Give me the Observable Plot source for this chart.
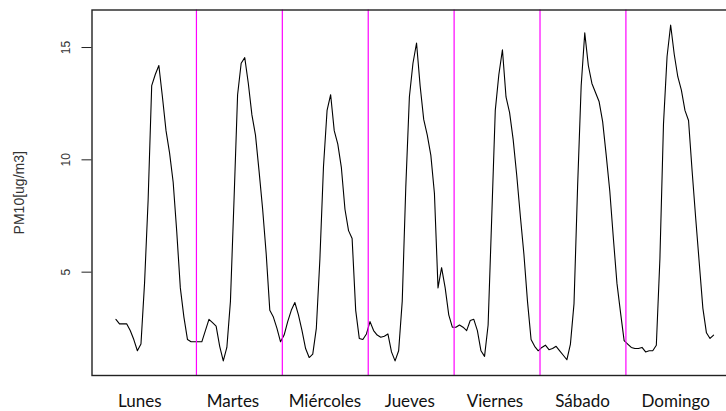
<!DOCTYPE html>
<html>
<head>
<meta charset="utf-8">
<script src="https://cdn.jsdelivr.net/npm/d3@7"></script>
<script src="https://cdn.jsdelivr.net/npm/@observablehq/plot@0.6"></script>
<style>
  html, body { margin: 0; padding: 0; background: #fff; }
  #chart { width: 726px; height: 411px; overflow: hidden; }
  #chart svg { max-width: none !important; }
</style>
</head>
<body>
<div id="chart"></div>
<script>
// Hour index (1..168) over one week
const hours = d3.range(1, 169);

// PM10 hourly values, Monday..Sunday (24 per day)
const lunes     = [2.9, 2.7, 2.7, 2.7, 2.4, 2.0, 1.5, 1.8, 4.5, 8.2, 13.3, 13.8, 14.2, 12.8, 11.3, 10.3, 9.0, 6.8, 4.3, 3.0, 2.0, 1.9, 1.9, 1.9];
const martes    = [1.9, 2.4, 2.9, 2.75, 2.6, 1.7, 1.05, 1.65, 3.7, 8.2, 12.9, 14.3, 14.55, 13.4, 12.0, 11.1, 9.5, 7.8, 5.8, 3.3, 3.0, 2.5, 1.9, 2.2];
const miercoles = [2.8, 3.3, 3.65, 3.1, 2.4, 1.6, 1.2, 1.35, 2.5, 5.6, 9.7, 12.2, 12.9, 11.3, 10.7, 9.65, 7.8, 6.85, 6.5, 3.3, 2.05, 2.0, 2.25, 2.8];
const jueves    = [2.4, 2.2, 2.1, 2.15, 2.25, 1.45, 1.05, 1.5, 3.7, 8.8, 12.8, 14.3, 15.2, 13.3, 11.8, 11.1, 10.2, 8.5, 4.3, 5.2, 4.3, 3.1, 2.55, 2.55];
const viernes   = [2.65, 2.55, 2.4, 2.85, 2.9, 2.4, 1.5, 1.25, 2.65, 7.4, 12.2, 13.8, 14.9, 12.8, 12.1, 10.9, 9.3, 7.5, 5.8, 3.7, 2.0, 1.7, 1.5, 1.65];
const sabado    = [1.75, 1.55, 1.6, 1.7, 1.5, 1.3, 1.1, 1.8, 3.6, 8.8, 13.3, 15.65, 14.2, 13.4, 13.0, 12.6, 11.7, 10.2, 8.6, 6.5, 4.5, 3.2, 1.95, 1.8];
const domingo   = [1.65, 1.6, 1.6, 1.65, 1.45, 1.5, 1.5, 1.75, 5.6, 11.6, 14.6, 16.0, 14.7, 13.7, 13.1, 12.2, 11.75, 9.5, 7.4, 5.4, 3.4, 2.3, 2.05, 2.2];

// Day separators (hour positions) and day labels
const dayBreaks = [23.5, 47.5, 71.5, 95.5, 119.5, 143.5];
const dayNames  = ["Lunes", "Martes", "Miércoles", "Jueves", "Viernes", "Sábado", "Domingo"];
const dayLabelAt = [7.7, 33.7, 59.4, 83.1, 106.9, 131.4, 157.4];

// Y tick values
const yTicks = [5, 10, 15];

const pm10 = [...lunes, ...martes, ...miercoles, ...jueves, ...viernes, ...sabado, ...domingo];
const data = hours.map((h, i) => ({hour: h, pm10: pm10[i]}));

const chart = Plot.plot({
  width: 738,
  height: 411,
  marginLeft: 91.5,
  marginRight: 1,
  marginTop: 9.5,
  marginBottom: 36,
  x: {domain: [-5.68, 174.68]},
  y: {domain: [0.40, 16.67]},
  style: {fontFamily: "'Liberation Sans', Arial, sans-serif", fontSize: "12px", color: "#222", background: "#fff", maxWidth: "none"},
  marks: [
    Plot.axisY({
      ticks: yTicks, tickSize: 10, tickRotate: -90, tickPadding: 12,
      fontSize: 12, stroke: "#222", fill: "#333",
      label: "PM10[ug/m3]", labelAnchor: "center", labelOffset: 78, labelArrow: "none"
    }),
    Plot.axisX({
      ticks: dayLabelAt, tickFormat: (d, i) => dayNames[i], tickSize: 0, tickPadding: 19,
      fontSize: 17, fontFamily: "Lato, 'Open Sans', sans-serif", fill: "#111", label: null
    }),
    Plot.line(data, {x: "hour", y: "pm10", stroke: "#000", strokeWidth: 1.1}),
    Plot.ruleX(dayBreaks, {stroke: "#ff00ff", strokeWidth: 1.2}),
    Plot.frame({stroke: "#222", strokeWidth: 1.4})
  ]
});
chart.style.maxWidth = "none";
document.getElementById("chart").appendChild(chart);
// enlarge the y-axis title to match the reference
chart.querySelectorAll("[aria-label='y-axis label'] text").forEach(t => { t.style.fontSize = "14px"; t.style.fill = "#333"; });
</script>
</body>
</html>
